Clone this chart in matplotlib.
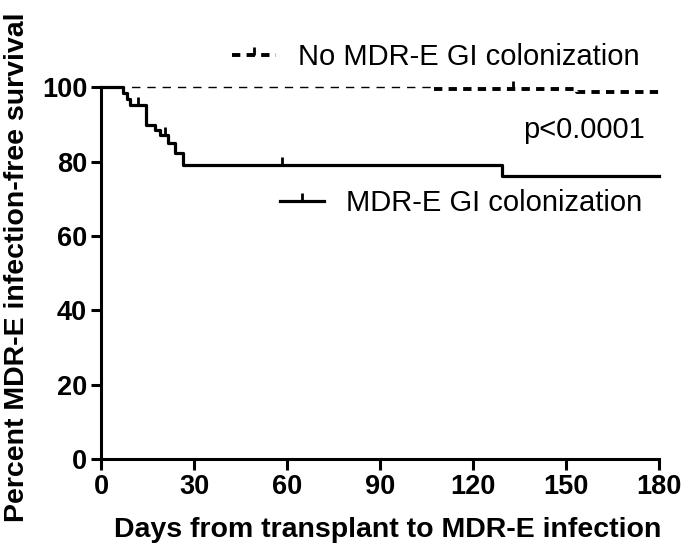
import matplotlib
matplotlib.use("Agg")
import matplotlib.pyplot as plt
from matplotlib.lines import Line2D

plt.rcParams['font.family'] = ['Liberation Sans', 'DejaVu Sans']
plt.rcParams['lines.scale_dashes'] = False

# MDR-E GI colonization group (Kaplan-Meier steps)
mdr_days = [0, 7, 8.3, 9.4, 14.4, 17.4, 19, 21.7, 23.9, 26.5, 129.2, 180]
mdr_surv = [100, 98.4, 96.9, 95.3, 90.0, 88.6, 87.2, 85.0, 82.3, 79.2, 76.2, 76.2]
mdr_cens_days = [12, 20.5, 58.3]
mdr_cens_surv = [95.3, 87.2, 79.2]

# No MDR-E GI colonization group
no_days = [0, 107.5, 153.4, 180]
no_surv = [100, 99.7, 98.9, 98.9]
no_cens_days = [133]
no_cens_surv = [99.7]

xticks = [0, 30, 60, 90, 120, 150, 180]
yticks = [0, 20, 40, 60, 80, 100]

fig = plt.figure(figsize=(6.83, 5.57), dpi=100)
ax = fig.add_axes([0.148, 0.176, 0.817, 0.667])

# No MDR: thin first segment, thicker after first event
ax.step(no_days[:2], no_surv[:2], where='post', color='black', lw=1.0,
        ls=(0, (6, 5)), clip_on=False, zorder=3)
ax.step(no_days[1:], no_surv[1:], where='post', color='black', lw=2.8,
        ls=(0, (6, 4.5)), clip_on=False, zorder=3)
ax.plot(no_cens_days, no_cens_surv, ls='none', marker=2, ms=6, mew=2,
        color='black', clip_on=False, zorder=4)

ax.step(mdr_days, mdr_surv, where='post', color='black', lw=2.3,
        clip_on=False, zorder=5)
ax.plot(mdr_cens_days, mdr_cens_surv, ls='none', marker=2, ms=6, mew=2,
        color='black', clip_on=False, zorder=5)

ax.set_xlim(0, 180)
ax.set_ylim(0, 100)
ax.set_xticks(xticks)
ax.set_yticks(yticks)
for s in ['top', 'right']:
    ax.spines[s].set_visible(False)
for s in ['left', 'bottom']:
    ax.spines[s].set_linewidth(2.2)
ax.tick_params(axis='x', direction='out', length=8, width=2.2, pad=3,
               labelsize=19.5)
ax.tick_params(axis='y', direction='out', length=7, width=2.2, pad=3,
               labelsize=19.5)
for lab in ax.get_xticklabels() + ax.get_yticklabels():
    lab.set_fontweight('bold')

ax.set_xlabel('Days from transplant to MDR-E infection', fontsize=20.5,
              fontweight='bold')
ax.xaxis.set_label_coords(0.514, -0.155)
ax.set_ylabel('Percent MDR-E infection-free survival', fontsize=20.5,
              fontweight='bold')
ax.yaxis.set_label_coords(-0.15, 0.516)
ax.yaxis.label.set_va('center')

h1 = Line2D([], [], color='black', lw=2.8, ls=(0, (6, 4.5)), marker=2,
            ms=6, mew=2)
h2 = Line2D([], [], color='black', lw=2.3, marker=2, ms=6, mew=2)
leg1 = ax.legend(handles=[h1], labels=['No MDR-E GI colonization'],
                 loc='center left', bbox_to_anchor=(0.340, 0.898),
                 bbox_transform=fig.transFigure, frameon=False,
                 fontsize=21, handlelength=1.5, handletextpad=0.75,
                 borderpad=0, borderaxespad=0, numpoints=1)
ax.add_artist(leg1)
ax.legend(handles=[h2], labels=['MDR-E GI colonization'],
          loc='center left', bbox_to_anchor=(0.410, 0.636),
          bbox_transform=fig.transFigure, frameon=False,
          fontsize=21, handlelength=1.5, handletextpad=0.75,
          borderpad=0, borderaxespad=0, numpoints=1)

fig.text(0.944, 0.767, 'p<0.0001', fontsize=21, ha='right', va='center')

fig.savefig('out.png', dpi=100)
